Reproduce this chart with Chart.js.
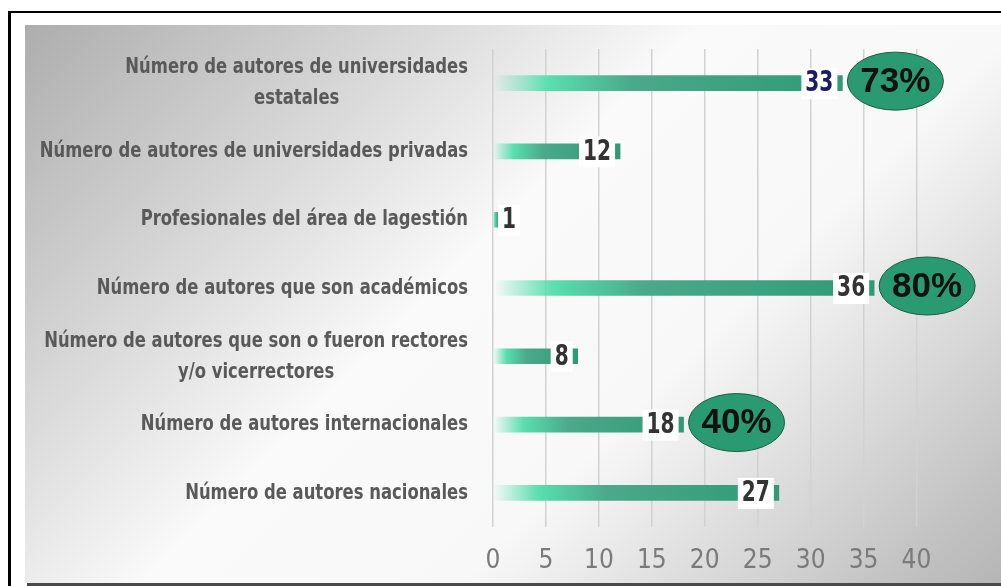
<!DOCTYPE html>
<html>
<head>
<meta charset="utf-8">
<script src="https://cdn.jsdelivr.net/npm/chart.js@4/dist/chart.umd.min.js"></script>
<style>
  html, body { margin: 0; padding: 0; background: #fff; }
  #wrap { width: 1001px; height: 586px; position: relative; }
</style>
</head>
<body>
<div id="wrap"><canvas id="autoresChart"></canvas></div>
<script>
// datos
const categories = [
  ["Número de autores de universidades", "estatales"],
  "Número de autores de universidades privadas",
  "Profesionales del área de lagestión",
  "Número de autores que son académicos",
  ["Número de autores que son o fueron rectores", "y/o vicerrectores"],
  "Número de autores internacionales",
  "Número de autores nacionales"
];
const values = [33, 12, 1, 36, 8, 18, 27];
const percentLabels = ["73%", null, null, "80%", null, "40%", null];
const xTicks = [0, 5, 10, 15, 20, 25, 30, 35, 40];

const NARROW = "'Liberation Sans Narrow', 'DejaVu Sans Condensed', sans-serif";
const valueColors = ['#1c1c66', '#333', '#333', '#333', '#333', '#333', '#333'];

// texto estrecho: la fuente original es muy condensada
function narrowText(c, text, x, y, sx) {
  c.save();
  c.translate(x, y);
  c.scale(sx, 1);
  c.fillText(text, 0, 0);
  c.restore();
}

// fondo con degradado y marco
const backgroundPlugin = {
  id: 'background',
  beforeDraw(chart) {
    const c = chart.ctx;
    c.save();
    c.fillStyle = '#fff';
    c.fillRect(0, 0, chart.width, chart.height);
    const g = c.createLinearGradient(0, 0, 792, 792);
    g.addColorStop(0, '#a8a8a8');
    g.addColorStop(0.3, '#dcdcdc');
    g.addColorStop(0.46, '#fafafa');
    g.addColorStop(0.66, '#f8f8f8');
    g.addColorStop(0.82, '#d8d8d8');
    g.addColorStop(0.93, '#c2c2c2');
    g.addColorStop(1, '#b6b6b6');
    c.fillStyle = g;
    c.fillRect(25, 25, 976, 558);
    c.fillStyle = '#000';
    c.fillRect(9, 11, 992, 2);
    c.fillRect(8, 11, 3, 575);
    c.fillStyle = '#4a4a4a';
    c.fillRect(27, 583, 974, 3);
    c.restore();
  }
};

// etiquetas de categorias: bloque alineado a la derecha, lineas centradas
const categoryLabelPlugin = {
  id: 'categoryLabels',
  afterDraw(chart) {
    const c = chart.ctx;
    const y = chart.scales.y;
    const sx = 0.83;
    c.save();
    c.font = 'bold 22px ' + NARROW;
    c.fillStyle = '#595959';
    c.textAlign = 'center';
    c.textBaseline = 'middle';
    categories.forEach((label, i) => {
      const lines = Array.isArray(label) ? label : [label];
      const w = Math.max(...lines.map(l => c.measureText(l).width)) * sx;
      const cx = 468 - w / 2;
      const yc = y.getPixelForValue(i);
      lines.forEach((l, j) => {
        narrowText(c, l, cx, yc + (j - (lines.length - 1) / 2) * 31, sx);
      });
    });
    c.restore();
  }
};

// valores en caja blanca y elipses de porcentaje
const valueLabelPlugin = {
  id: 'valueLabels',
  afterDatasetsDraw(chart) {
    const c = chart.ctx;
    const x = chart.scales.x;
    const y = chart.scales.y;
    const x0 = x.getPixelForValue(0);
    const sx = 0.8;
    c.save();
    values.forEach((v, i) => {
      const end = x.getPixelForValue(v);
      const yc = y.getPixelForValue(i);
      const txt = String(v);
      c.font = 'bold 28px ' + NARROW;
      const w = c.measureText(txt).width * sx;
      let right = end - 5;
      let left = right - w - 8;
      if (left < x0 + 5) { left = x0 + 5; right = left + w + 8; }
      c.fillStyle = '#fff';
      c.fillRect(left, yc - 15, right - left, 31);
      c.fillStyle = valueColors[i];
      c.textAlign = 'center';
      c.textBaseline = 'middle';
      narrowText(c, txt, (left + right) / 2, yc + 1, sx);

      const p = percentLabels[i];
      if (p) {
        const cx = end + 53;
        const cy = yc - 2;
        c.beginPath();
        c.ellipse(cx, cy, 48, 29, 0, 0, Math.PI * 2);
        c.fillStyle = '#2a9a72';
        c.fill();
        c.lineWidth = 1;
        c.strokeStyle = '#1d5e46';
        c.stroke();
        c.fillStyle = '#111';
        c.font = 'bold 35px "Liberation Sans", Arial, sans-serif';
        c.fillText(p, cx, cy + 1);
      }
    });
    c.restore();
  }
};

function barGradient(context) {
  const chart = context.chart;
  const x = chart.scales.x;
  if (!x || !chart.chartArea) return '#3aa37f';
  const v = values[context.dataIndex];
  const x0 = x.getPixelForValue(0);
  const x1 = x.getPixelForValue(v);
  const g = chart.ctx.createLinearGradient(x0, 0, x1, 0);
  g.addColorStop(0, 'rgba(90, 222, 176, 0)');
  g.addColorStop(0.16, 'rgba(90, 222, 176, 1)');
  g.addColorStop(0.4, '#4aa98a');
  g.addColorStop(1, '#2f9a76');
  return g;
}

const ctx = document.getElementById('autoresChart');

new Chart(ctx, {
  type: 'bar',
  data: {
    labels: categories,
    datasets: [{
      data: values,
      backgroundColor: barGradient,
      barThickness: 15,
      borderWidth: 0
    }]
  },
  options: {
    indexAxis: 'y',
    responsive: true,
    maintainAspectRatio: false,
    animation: false,
    layout: { padding: { top: 49, right: 84.5, left: 0, bottom: 0 } },
    scales: {
      x: {
        min: 0,
        max: 40,
        afterBuildTicks: scale => { scale.ticks = xTicks.map(v => ({ value: v })); },
        afterFit: scale => { scale.height = 59; },
        grid: { color: '#d2d2d2', lineWidth: 1.5, drawTicks: false },
        border: { display: false },
        ticks: {
          padding: 19,
          color: '#7a7a7a',
          font: { family: NARROW, size: 26 }
        }
      },
      y: {
        afterFit: scale => { scale.width = 493; },
        grid: { display: false },
        border: { display: false },
        ticks: { display: false }
      }
    },
    plugins: {
      legend: { display: false },
      tooltip: { enabled: false }
    }
  },
  plugins: [backgroundPlugin, categoryLabelPlugin, valueLabelPlugin]
});
</script>
</body>
</html>
